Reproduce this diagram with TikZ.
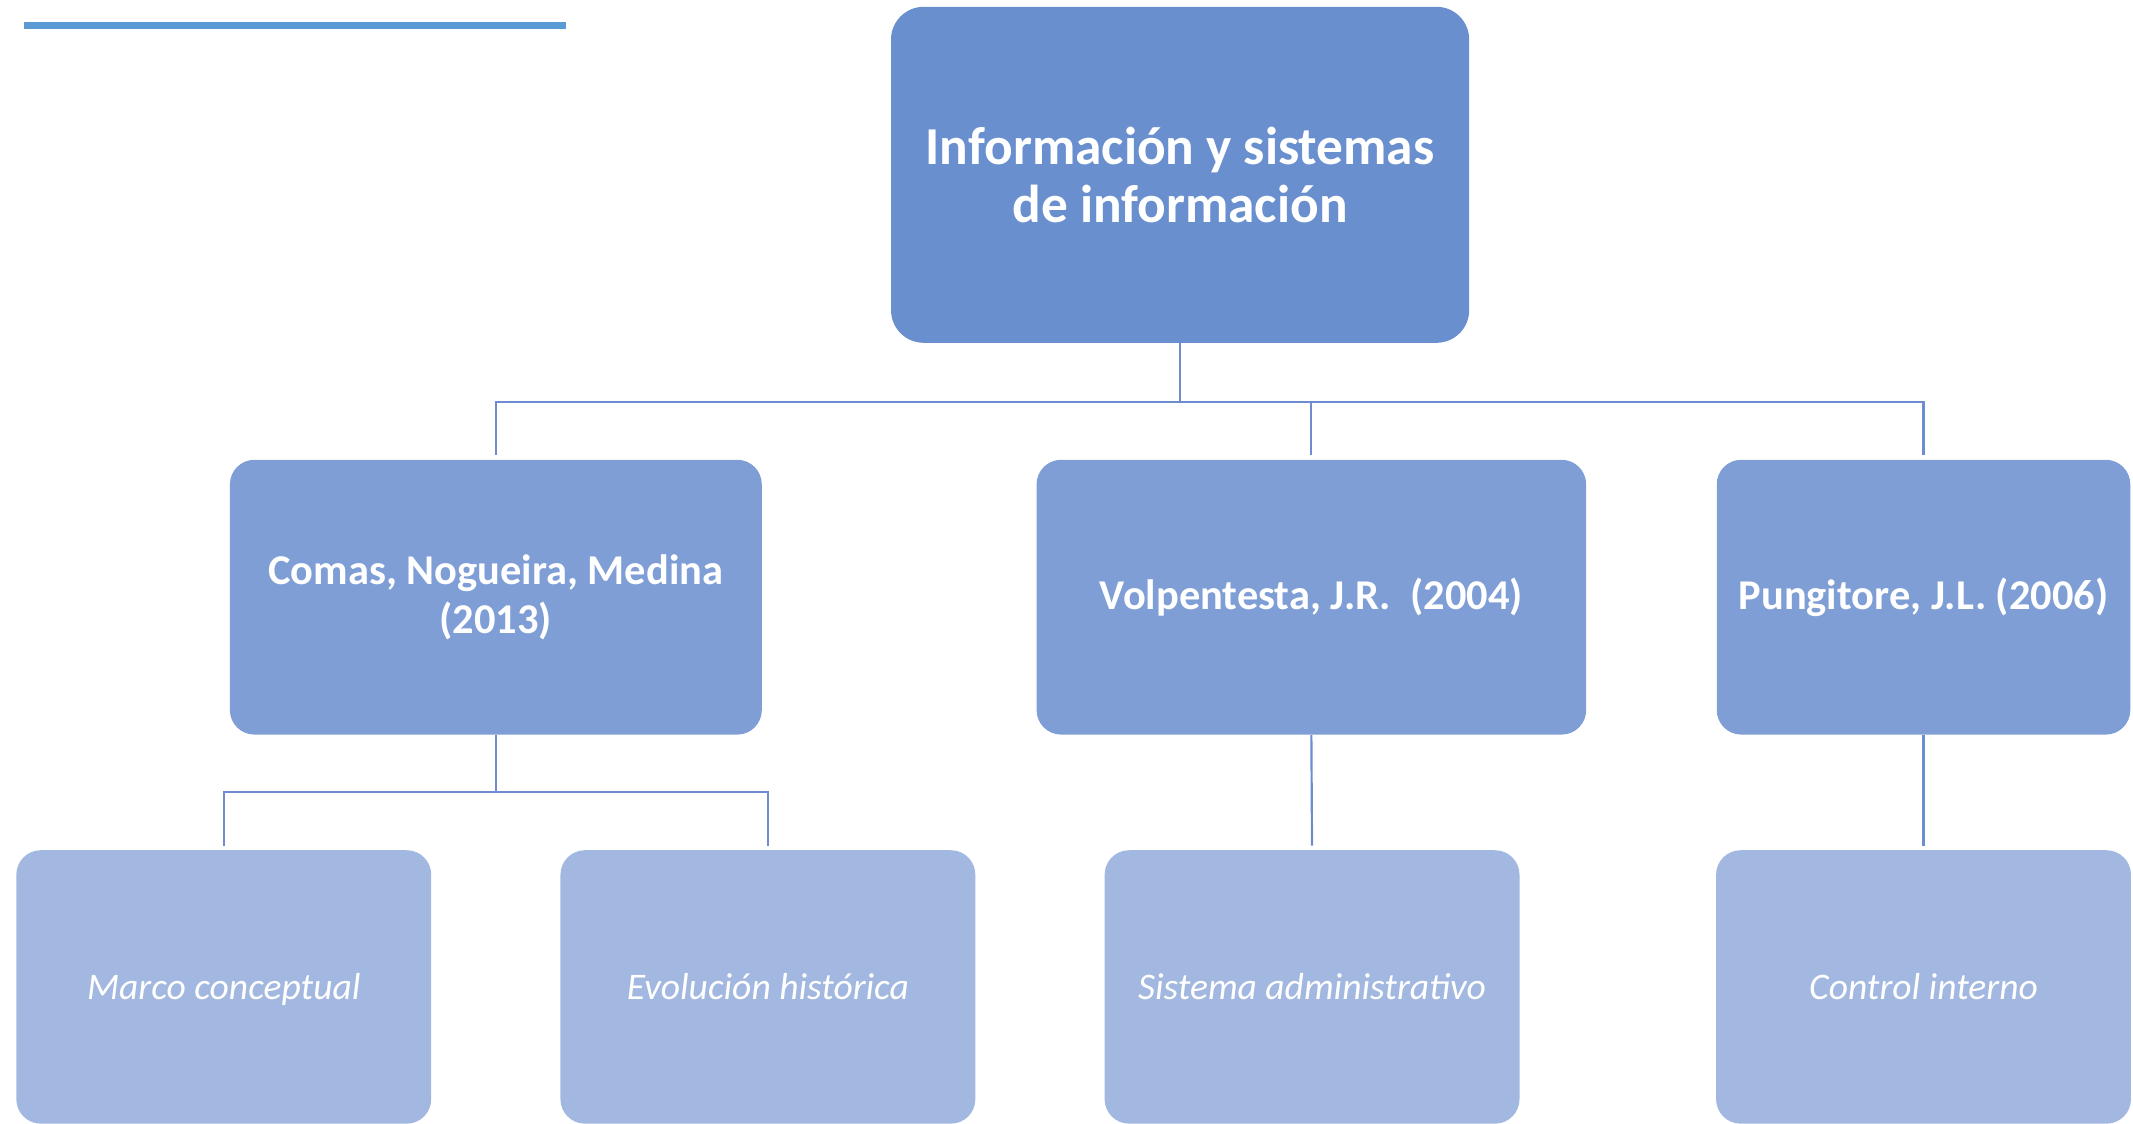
\documentclass[tikz,border=0pt]{standalone}
\usepackage{fontspec}
\setmainfont{Carlito}
\usepackage{tikz}
\usetikzlibrary{calc}

\definecolor{topblue}{RGB}{106,143,207}
\definecolor{midblue}{RGB}{127,158,214}
\definecolor{lowblue}{RGB}{162,184,224}
\definecolor{linkblue}{RGB}{110,140,208}
\definecolor{barblue}{RGB}{91,155,213}

\tikzset{
    topbox/.style={rounded corners=12pt, fill=topblue, text=white, align=center, inner sep=0pt,
        minimum width=212.5pt, minimum height=123.5pt, font=\bfseries\fontsize{19.6}{21.5}\selectfont},
    midbox/.style={rounded corners=9pt, fill=midblue, text=white, align=center, inner sep=0pt,
        minimum height=101pt, font=\bfseries\fontsize{15.6}{18}\selectfont},
    lowbox/.style={rounded corners=9pt, fill=lowblue, text=white, align=center, inner sep=0pt,
        minimum width=152.5pt, minimum height=100.5pt, text height=10.5pt, text depth=1.5pt,
        font=\itshape\fontsize{13.8}{15}\selectfont},
    link/.style={draw=linkblue, line width=0.8pt}
}

\begin{document}
\begin{tikzpicture}[x=0.5pt, y=-0.5pt]
            \useasboundingbox (0,0) rectangle (1568,826);
            
            \draw[barblue, line width=2.5pt] (18,19)--(416,19);
            
            \node[topbox] (info) at (867.5,128.5) {Información y sistemas\\de información};
            
            \node[midbox, minimum width=195.5pt] (comas) at (364.5,439) {Comas, Nogueira, Medina\\(2013)};
            \node[midbox, minimum width=202pt] (volp) at (964,439) {Volpentesta, J.R.~~(2004)};
            \node[midbox, minimum width=152pt] (pung) at (1414,439) {Pungitore, J.L. (2006)};
            
            \node[lowbox] (marco) at (164.5,725.5) {Marco conceptual};
            \node[lowbox] (evol) at (564.5,725.5) {Evolución histórica};
            \node[lowbox] (sist) at (964.5,725.5) {Sistema administrativo};
            \node[lowbox] (ctrl) at (1414,725.5) {Control interno};
            
            \draw[link] (info.south) -- ++(0,43) coordinate (bus);
            \draw[link, shorten >=1.5pt] (bus) -| (comas.north);
            \draw[link, shorten >=1.5pt] (bus) -| (volp.north);
            \draw[link, shorten >=1.5pt] (bus) -| (pung.north);
            
            \draw[link] (comas.south) -- ++(0,42) coordinate (subbus);
            \draw[link, shorten >=1.5pt] (subbus) -| (marco.north);
            \draw[link, shorten >=1.5pt] (subbus) -| (evol.north);
            \draw[link, shorten >=1.5pt] (volp.south) -- (sist.north);
            \draw[link, shorten >=1.5pt] (pung.south) -- (ctrl.north);
        \end{tikzpicture}
\end{document}
